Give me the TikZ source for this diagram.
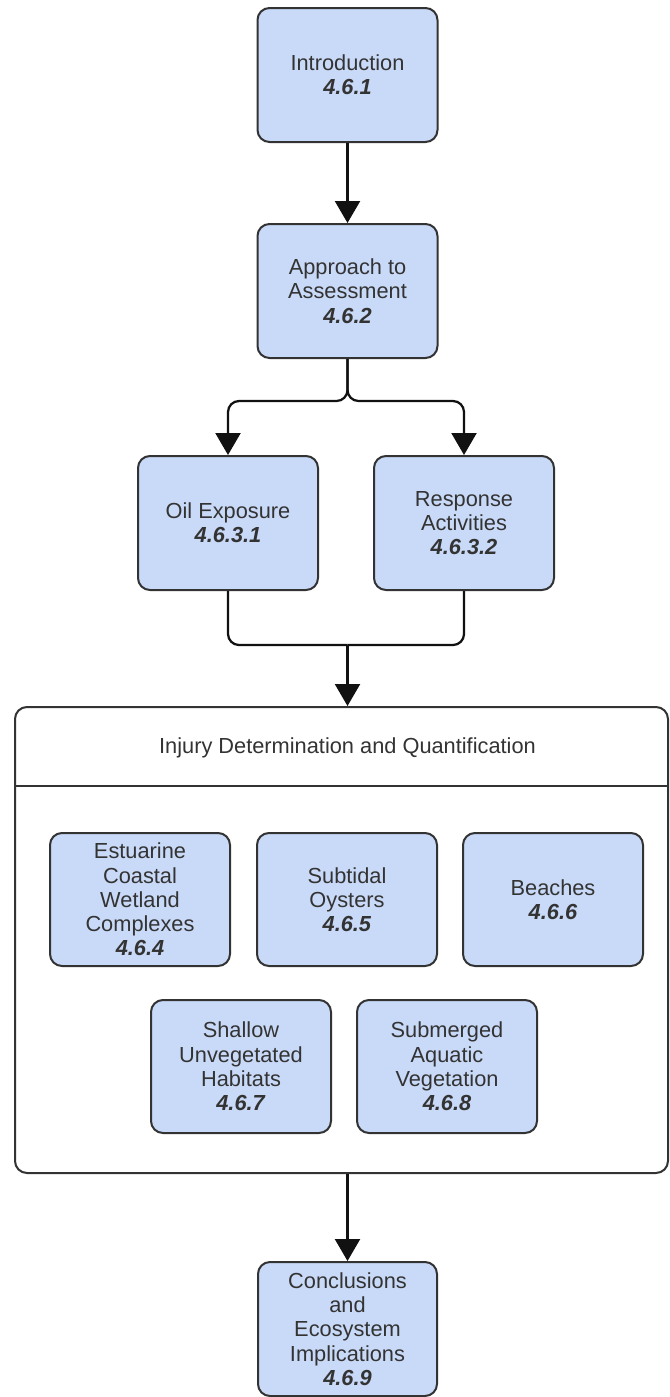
\documentclass[tikz,border=0pt]{standalone}
\usepackage{fontspec}
\setmainfont{Liberation Sans}
\usepackage{tikz}
\usetikzlibrary{shapes,arrows.meta,positioning,calc}
\definecolor{secfill}{HTML}{C9DAF8}
\definecolor{secline}{HTML}{333333}
\definecolor{sectext}{HTML}{333333}
\definecolor{secarrow}{HTML}{111111}
\newcommand{\secfont}{\fontsize{12.4}{13.8}\selectfont}
\newcommand{\secnum}[1]{\textbf{\textit{#1}}}
\tikzstyle{block} = [rectangle, draw=secline, line width=0.04cm, rounded corners=0.24cm,
    fill=secfill, minimum width=3.6cm, minimum height=2.68cm, align=center,
    inner sep=2pt, text=sectext, font=\secfont]
\tikzstyle{group} = [rectangle, draw=secline, line width=0.04cm, rounded corners=0.24cm,
    fill=white, minimum width=13.06cm, minimum height=9.32cm]
\tikzstyle{arrow} = [-{Triangle[width=0.5cm,length=0.44cm]}, line width=0.045cm, secarrow]
\tikzstyle{link} = [line width=0.045cm, secarrow, rounded corners=0.22cm]

\begin{document}
\begin{tikzpicture}[node distance=1.6cm]
\useasboundingbox (0,0) rectangle (13.38,-27.94);

\node[block] (intro) at (6.95,-1.5) {Introduction\\ \secnum{4.6.1}};
\node[block, below=of intro] (approach) {Approach to\\ Assessment\\ \secnum{4.6.2}};
\node[block] (oil) at (4.56,-10.46) {Oil Exposure\\ \secnum{4.6.3.1}};
\node[block] (response) at (9.28,-10.46) {Response\\ Activities\\ \secnum{4.6.3.2}};

% injury group with its title bar
\node[group] (injury) at (6.83,-18.8) {};
\node[text=sectext, font=\secfont] (injtitle) at (6.95,-14.96) {Injury Determination and Quantification};
\draw[line width=0.04cm, secline] ([yshift=-1.6cm]injury.north west) -- ([yshift=-1.6cm]injury.north east);

\node[block, minimum height=2.66cm] (estuarine) at (2.8,-17.99) {Estuarine\\ Coastal\\ Wetland\\ Complexes\\ \secnum{4.6.4}};
\node[block, minimum height=2.66cm] (oysters) at (6.94,-17.99) {Subtidal\\ Oysters\\ \secnum{4.6.5}};
\node[block, minimum height=2.66cm] (beaches) at (11.06,-17.99) {Beaches\\ \secnum{4.6.6}};
\node[block, minimum height=2.66cm] (shallow) at (4.82,-21.33) {Shallow\\ Unvegetated\\ Habitats\\ \secnum{4.6.7}};
\node[block, minimum height=2.66cm] (submerged) at (8.94,-21.33) {Submerged\\ Aquatic\\ Vegetation\\ \secnum{4.6.8}};

\node[block, minimum width=3.58cm] (concl) at (6.95,-26.58) {Conclusions\\ and\\ Ecosystem\\ Implications\\ \secnum{4.6.9}};

\coordinate (merge) at (6.95,-12.9);

\draw[arrow] (intro) -- (approach);
\draw[arrow, rounded corners=0.22cm] (approach.south) -- ++(0,-0.84) -| (oil.north);
\draw[arrow, rounded corners=0.22cm] (approach.south) -- ++(0,-0.84) -| (response.north);
\draw[link] (oil.south) |- (merge);
\draw[link] (response.south) |- (merge);
\draw[arrow] (merge) -- (merge |- injury.north);
\draw[arrow] (concl.north |- injury.south) -- (concl.north);
\end{tikzpicture}
\end{document}
